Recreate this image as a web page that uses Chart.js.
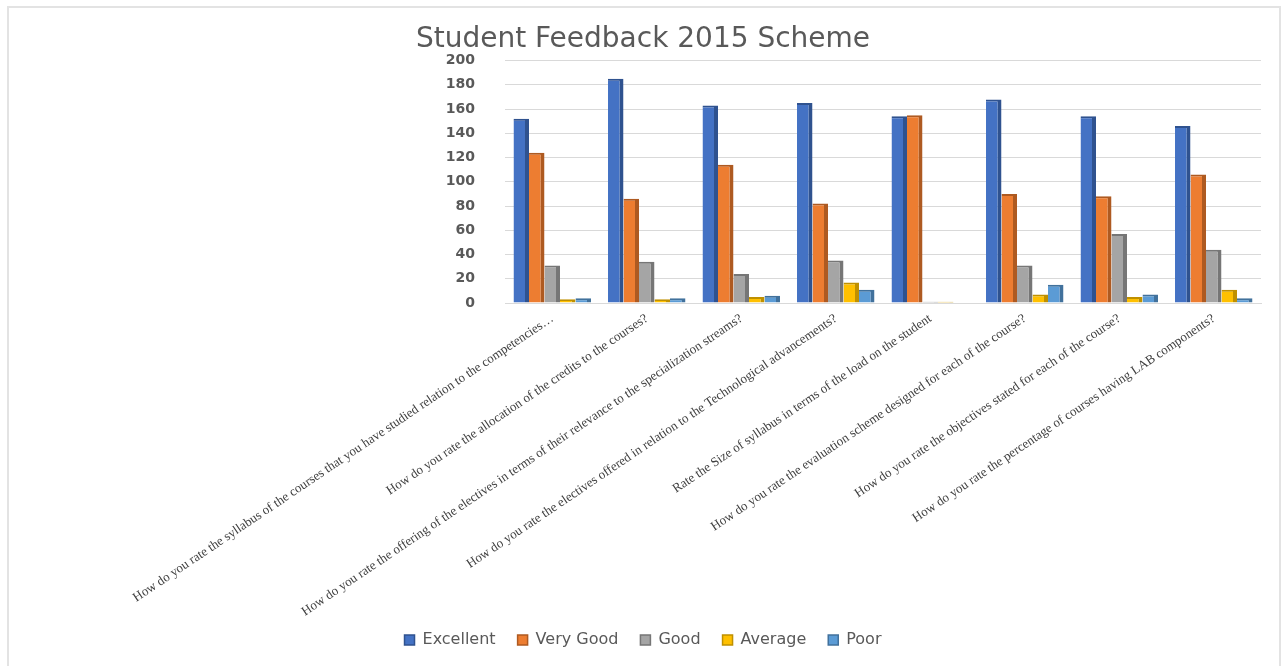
<!DOCTYPE html>
<html>
<head>
<meta charset="utf-8">
<title>Student Feedback 2015 Scheme</title>
<script src="https://cdn.jsdelivr.net/npm/chart.js@4.4.0/dist/chart.umd.min.js"></script>
<style>
  html, body { margin: 0; padding: 0; background: #fff; }
  #wrap { position: relative; width: 1286px; height: 666px; }
  #frame {
    position: absolute; left: 7px; top: 6px; width: 1270px; height: 670px;
    border: 2px solid #e3e3e3; pointer-events: none;
  }
</style>
</head>
<body>
<div id="wrap">
  <canvas id="myChart" width="1286" height="666"></canvas>
  <div id="frame"></div>
</div>
<script>
// Dados do gráfico
const questions = [
    'How do you rate the syllabus of the courses that you have studied relation to the competencies…',
    'How do you rate the allocation of the credits to the courses?',
    'How do you rate the offering of the electives in terms of their relevance to the specialization streams?',
    'How do you rate the electives offered in relation to the Technological advancements?',
    'Rate the Size of syllabus in terms of the load on the student',
    'How do you rate the evaluation scheme designed for each of the course?',
    'How do you rate the objectives stated for each of the course?',
    'How do you rate the percentage of courses having LAB components?'
];
const excellent = [152, 185, 163, 165, 154, 168, 154, 146];
const veryGood = [124, 86, 114, 82, 155, 90, 88, 106];
const good = [31, 34, 24, 35, 1, 31, 57, 44];
const average = [3, 3, 5, 17, 1, 7, 5, 11];
const poor = [4, 4, 6, 11, 0, 15, 7, 4];
const yTicks = [0, 20, 40, 60, 80, 100, 120, 140, 160, 180, 200];

function serie(label, values, color, dark) {
    return {
        label: label,
        data: values,
        backgroundColor: color,
        borderColor: dark,
        borderWidth: { top: 2, right: 4, left: 0, bottom: 0 },
        borderSkipped: false,
        barPercentage: 1,
        categoryPercentage: 0.82
    };
}

const data = {
    labels: questions,
    datasets: [
        serie('Excellent', excellent, '#4472C4', '#2F528F'),
        serie('Very Good', veryGood, '#ED7D31', '#AE5A21'),
        serie('Good', good, '#A5A5A5', '#767676'),
        serie('Average', average, '#FFC000', '#BF9000'),
        serie('Poor', poor, '#5B9BD5', '#41719C')
    ]
};

// deixa os rótulos longos do eixo x descerem sem corte
const labelArea = {
    id: 'labelArea',
    afterLayout(chart) {
        chart.scales.x.bottom = chart.height;
    }
};

const options = {
    responsive: false,
    animation: false,
    layout: { padding: { top: 13, left: 0, right: 0, bottom: 8 } },
    plugins: {
        title: {
            display: true,
            text: 'Student Feedback 2015 Scheme',
            color: '#595959',
            font: { family: 'DejaVu Sans', size: 28, weight: 'normal' },
            padding: { top: 10, bottom: 4 }
        },
        legend: {
            position: 'bottom',
            labels: {
                color: '#595959',
                font: { family: 'DejaVu Sans', size: 16 },
                boxWidth: 10,
                boxHeight: 10,
                padding: 22
            }
        },
        tooltip: { enabled: false }
    },
    scales: {
        x: {
            grid: { display: false },
            border: { color: '#d9d9d9' },
            ticks: {
                autoSkip: false,
                minRotation: 34,
                maxRotation: 34,
                padding: 0,
                color: '#404040',
                font: { family: 'Liberation Serif', size: 13 }
            },
            afterFit: function (s) {
                s.paddingLeft = 0;
                s.paddingRight = 25;
                s.height = 307;
            }
        },
        y: {
            min: 0,
            max: 200,
            afterBuildTicks: function (s) {
                s.ticks = yTicks.map(v => ({ value: v }));
            },
            grid: { color: '#d9d9d9', drawTicks: false },
            border: { display: false },
            ticks: {
                padding: 30,
                color: '#595959',
                font: { family: 'DejaVu Sans', size: 14, weight: 'bold' }
            },
            afterFit: function (s) {
                s.width = 505;
            }
        }
    }
};

const ctx = document.getElementById('myChart').getContext('2d');
const myChart = new Chart(ctx, {
    type: 'bar',
    data: data,
    options: options,
    plugins: [labelArea]
});
</script>
</body>
</html>
